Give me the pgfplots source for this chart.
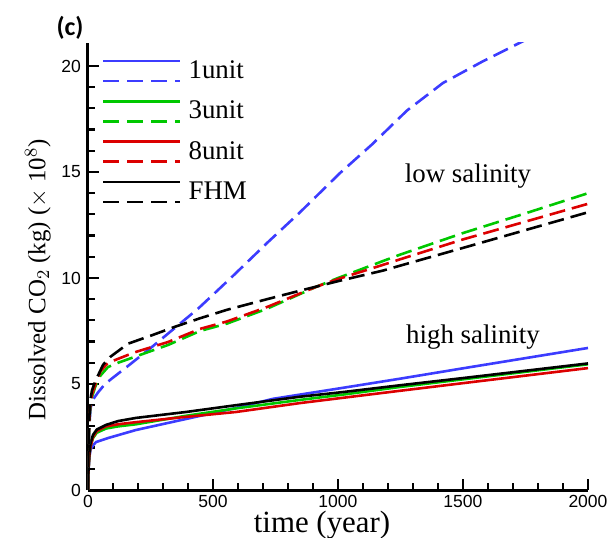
\documentclass[border=0pt]{standalone}
\usepackage{fontspec}
\setmainfont{Liberation Serif}
\newfontfamily\ticksans{Liberation Sans}
\newfontfamily\calfont{Carlito}
\usepackage{pgfplots}
\pgfplotsset{compat=1.18}
\definecolor{blueA}{RGB}{60,60,255}
\definecolor{greenA}{RGB}{0,200,0}
\definecolor{redA}{RGB}{220,0,0}
\begin{document}
\begin{tikzpicture}
\path[use as bounding box] (-44bp,-24bp) rectangle (262bp,245bp);
\begin{axis}[
  scale only axis,
  width=250bp, height=223.66bp,
  xmin=0, xmax=2000, ymin=0, ymax=21.1,
  axis x line*=bottom, axis y line*=left,
  x axis line style={-, line width=1.5bp},
  y axis line style={-, line width=1.5bp},
  xtick={0,500,1000,1500,2000},
  ytick={0,5,10,15,20},
  minor x tick num=4, minor y tick num=4,
  tick align=inside,
  major tick length=5.5bp, minor tick length=3.5bp,
  every tick/.style={black, line width=1.1bp},
  /pgf/number format/assume math mode=true,
  /pgf/number format/1000 sep={},
  tick label style={font=\ticksans\fontsize{8.8}{10}\selectfont, black},
  xticklabel style={yshift=1bp},
  xlabel={time (year)},
  ylabel={Dissolved CO$_2$ (kg) ($\times$ 10$^8$)},
  xlabel style={at={(axis description cs:0.468,0)}, anchor=center, yshift=-17.5bp, font=\fontsize{15.5}{17}\selectfont},
  ylabel style={at={(axis description cs:-0.1,0.47)}, anchor=center, font=\fontsize{12.5}{14}\selectfont},
  clip mode=individual,
  legend style={draw=none, fill=none, at={(0,1)}, anchor=north west, xshift=7bp, yshift=-4bp,
    inner sep=0pt, outer sep=0pt, row sep=0pt,
    nodes={inner sep=0pt, minimum height=20.2bp, font=\fontsize{13.5}{16}\selectfont},
    /tikz/every odd column/.append style={column sep=3.5bp}},
  legend cell align=left,
  every axis plot/.append style={line width=1.3bp},
]
% legend images
\addlegendimage{legend image code/.code={\draw[blueA,line width=1.3bp] (0bp,5bp)--(38.5bp,5bp); \draw[blueA,line width=1.3bp,dash pattern=on 8bp off 4bp] (0bp,-5bp)--(38.5bp,-5bp);}}
\addlegendentry{1unit}
\addlegendimage{legend image code/.code={\draw[greenA,line width=1.3bp] (0bp,5bp)--(38.5bp,5bp); \draw[greenA,line width=1.3bp,dash pattern=on 8bp off 4bp] (0bp,-5bp)--(38.5bp,-5bp);}}
\addlegendentry{3unit}
\addlegendimage{legend image code/.code={\draw[redA,line width=1.3bp] (0bp,5bp)--(38.5bp,5bp); \draw[redA,line width=1.3bp,dash pattern=on 8bp off 4bp] (0bp,-5bp)--(38.5bp,-5bp);}}
\addlegendentry{8unit}
\addlegendimage{legend image code/.code={\draw[black,line width=1.3bp] (0bp,5bp)--(38.5bp,5bp); \draw[black,line width=1.3bp,dash pattern=on 8bp off 4bp] (0bp,-5bp)--(38.5bp,-5bp);}}
\addlegendentry{FHM}

% high salinity (solid)
\addplot[blueA, forget plot] coordinates {(0,0) (2,0.9) (5,1.5) (10,1.9) (20,2.1) (32,2.26) (80,2.45) (192,2.83) (392,3.35) (592,3.87) (740,4.3) (1020,4.82) (1248,5.25) (1500,5.74) (2000,6.7)};
\addplot[greenA, forget plot] coordinates {(0,0) (2,0.95) (5,1.6) (10,2.05) (20,2.45) (35,2.7) (72,2.9) (120,3.0) (192,3.1) (392,3.5) (592,3.85) (848,4.25) (1020,4.5) (1248,4.86) (1500,5.22) (2000,5.93)};
\addplot[redA, forget plot] coordinates {(0,0) (2,0.95) (5,1.6) (10,2.05) (20,2.5) (35,2.78) (72,3.0) (120,3.1) (192,3.2) (392,3.45) (592,3.68) (848,4.1) (1020,4.35) (1248,4.68) (1500,5.04) (2000,5.75)};
\addplot[black, forget plot] coordinates {(0,0) (2,1.0) (5,1.7) (10,2.2) (20,2.6) (35,2.85) (72,3.07) (120,3.25) (192,3.4) (392,3.68) (592,4.0) (848,4.4) (1020,4.62) (1248,4.94) (1500,5.28) (2000,5.97)};

% low salinity (dashed)
\addplot[blueA, dash pattern=on 8bp off 3.5bp, forget plot] coordinates {(0,0) (2,1.6) (5,3.0) (10,3.8) (16,4.2) (40,4.6) (68,5.0) (100,5.3) (160,5.85) (256,6.75) (348,7.65) (440,8.55) (508,9.3) (580,10.1) (716,11.65) (848,13.1) (1008,14.95) (1136,16.3) (1276,17.9) (1420,19.2) (1576,20.2) (1728,21.1) (1800,21.5)};
\addplot[greenA, dash pattern=on 8bp off 3.5bp, forget plot] coordinates {(0,0) (2,1.8) (5,3.2) (10,4.0) (16,4.4) (30,4.9) (50,5.4) (80,5.8) (120,6.0) (320,6.84) (448,7.5) (556,7.85) (716,8.55) (916,9.6) (1000,10.0) (1180,10.8) (1248,11.1) (1500,12.12) (1750,13.05) (2000,14.0)};
\addplot[redA, dash pattern=on 8bp off 3.5bp, forget plot] coordinates {(0,0) (2,1.9) (5,3.3) (10,4.1) (16,4.5) (30,5.0) (50,5.6) (80,6.0) (188,6.5) (320,6.98) (448,7.6) (556,7.95) (716,8.63) (916,9.6) (1000,9.95) (1180,10.62) (1248,10.88) (1500,11.82) (1750,12.66) (2000,13.5)};
\addplot[black, dash pattern=on 8bp off 3.5bp, forget plot] coordinates {(0,0) (2,2.0) (5,3.4) (10,4.3) (16,4.7) (25,5.0) (40,5.4) (60,5.9) (88,6.27) (160,6.9) (256,7.3) (348,7.7) (448,8.1) (556,8.5) (716,9.0) (848,9.4) (1000,9.85) (1180,10.35) (1248,10.58) (1500,11.42) (1750,12.26) (2000,13.1)};

\node[font=\fontsize{13.5}{16}\selectfont] at (axis cs:1520,14.8) {low salinity};
\node[font=\fontsize{13.5}{16}\selectfont] at (axis cs:1540,7.2) {high salinity};
\node[font=\calfont\bfseries\fontsize{13}{15}\selectfont] at (rel axis cs:-0.036,1.033) {(c)};
\end{axis}
\end{tikzpicture}
\end{document}
